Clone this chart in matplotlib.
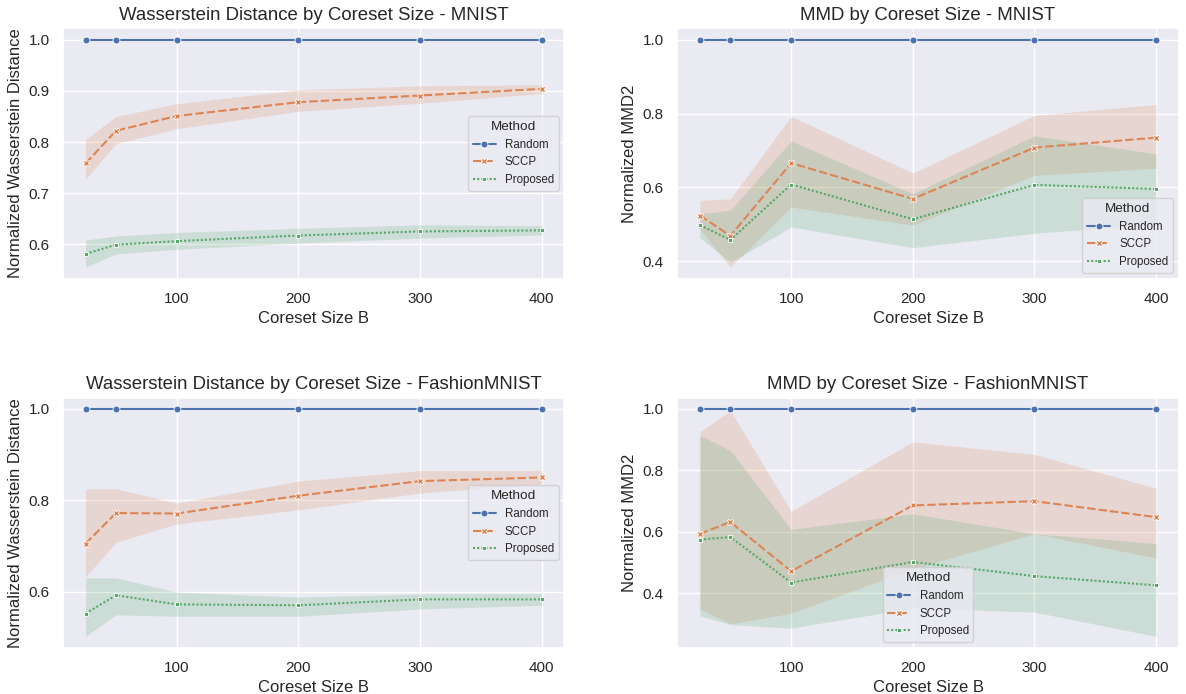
import matplotlib
matplotlib.use("Agg")
import matplotlib.pyplot as plt
from matplotlib.ticker import MultipleLocator
import seaborn as sns
import numpy as np

sizes = [25, 50, 100, 200, 300, 400]
methods = ["Random", "SCCP", "Proposed"]

# Wasserstein - MNIST
w_mnist_random = [1.0, 1.0, 1.0, 1.0, 1.0, 1.0]
w_mnist_sccp = [0.758, 0.822, 0.851, 0.878, 0.891, 0.904]
w_mnist_sccp_lo = [0.727, 0.797, 0.826, 0.860, 0.876, 0.895]
w_mnist_sccp_hi = [0.805, 0.850, 0.875, 0.902, 0.910, 0.912]
w_mnist_prop = [0.581, 0.599, 0.606, 0.617, 0.625, 0.627]
w_mnist_prop_lo = [0.555, 0.581, 0.590, 0.602, 0.612, 0.618]
w_mnist_prop_hi = [0.608, 0.616, 0.623, 0.631, 0.638, 0.636]

# MMD - MNIST
m_mnist_random = [1.0, 1.0, 1.0, 1.0, 1.0, 1.0]
m_mnist_sccp = [0.524, 0.469, 0.666, 0.569, 0.708, 0.735]
m_mnist_sccp_lo = [0.487, 0.384, 0.547, 0.498, 0.633, 0.652]
m_mnist_sccp_hi = [0.565, 0.569, 0.793, 0.639, 0.795, 0.825]
m_mnist_prop = [0.498, 0.458, 0.608, 0.514, 0.607, 0.596]
m_mnist_prop_lo = [0.464, 0.397, 0.493, 0.437, 0.476, 0.500]
m_mnist_prop_hi = [0.529, 0.538, 0.726, 0.583, 0.740, 0.691]

# Wasserstein - FashionMNIST
w_fashion_random = [1.0, 1.0, 1.0, 1.0, 1.0, 1.0]
w_fashion_sccp = [0.705, 0.772, 0.771, 0.810, 0.842, 0.850]
w_fashion_sccp_lo = [0.632, 0.708, 0.748, 0.779, 0.816, 0.836]
w_fashion_sccp_hi = [0.825, 0.825, 0.794, 0.842, 0.865, 0.865]
w_fashion_prop = [0.552, 0.592, 0.572, 0.570, 0.583, 0.583]
w_fashion_prop_lo = [0.502, 0.549, 0.546, 0.546, 0.562, 0.570]
w_fashion_prop_hi = [0.630, 0.630, 0.599, 0.588, 0.595, 0.596]

# MMD - FashionMNIST
m_fashion_random = [1.0, 1.0, 1.0, 1.0, 1.0, 1.0]
m_fashion_sccp = [0.594, 0.632, 0.472, 0.686, 0.700, 0.648]
m_fashion_sccp_lo = [0.349, 0.301, 0.335, 0.480, 0.594, 0.515]
m_fashion_sccp_hi = [0.926, 0.995, 0.667, 0.893, 0.852, 0.742]
m_fashion_prop = [0.575, 0.583, 0.435, 0.502, 0.456, 0.426]
m_fashion_prop_lo = [0.327, 0.298, 0.287, 0.352, 0.339, 0.260]
m_fashion_prop_hi = [0.914, 0.865, 0.608, 0.659, 0.594, 0.562]

titles = [
    "Wasserstein Distance by Coreset Size - MNIST",
    "MMD by Coreset Size - MNIST",
    "Wasserstein Distance by Coreset Size - FashionMNIST",
    "MMD by Coreset Size - FashionMNIST",
]
ylabels = ["Normalized Wasserstein Distance", "Normalized MMD2",
           "Normalized Wasserstein Distance", "Normalized MMD2"]
xlabel = "Coreset Size B"

panels = [
    (w_mnist_random, w_mnist_sccp, w_mnist_sccp_lo, w_mnist_sccp_hi,
     w_mnist_prop, w_mnist_prop_lo, w_mnist_prop_hi),
    (m_mnist_random, m_mnist_sccp, m_mnist_sccp_lo, m_mnist_sccp_hi,
     m_mnist_prop, m_mnist_prop_lo, m_mnist_prop_hi),
    (w_fashion_random, w_fashion_sccp, w_fashion_sccp_lo, w_fashion_sccp_hi,
     w_fashion_prop, w_fashion_prop_lo, w_fashion_prop_hi),
    (m_fashion_random, m_fashion_sccp, m_fashion_sccp_lo, m_fashion_sccp_hi,
     m_fashion_prop, m_fashion_prop_lo, m_fashion_prop_hi),
]
legend_locs = ["center right", "lower right", "center right", "lower center"]
y_steps = [0.1, 0.2, 0.2, 0.2]

sns.set_theme(style="darkgrid")
plt.rcParams['font.family'] = ['Liberation Sans', 'DejaVu Sans']

colors = sns.color_palette("deep")[:3]
markers = ["o", "X", (4, 0, 45)]
dashes = [None, (4, 1.5), (1, 1)]

fig, axes = plt.subplots(2, 2, figsize=(11.86, 6.94), dpi=100)
fig.subplots_adjust(left=0.0529, right=0.994, top=0.959, bottom=0.0667,
                    wspace=0.2246, hspace=0.476)

for ax, data, title, ylab, loc, ystep in zip(axes.flat, panels, titles, ylabels,
                                             legend_locs, y_steps):
    rnd, sc, sc_lo, sc_hi, pr, pr_lo, pr_hi = data
    series = [(rnd, None, None), (sc, sc_lo, sc_hi), (pr, pr_lo, pr_hi)]
    for (y, lo, hi), name, c, m, d in zip(series, methods, colors, markers, dashes):
        line, = ax.plot(sizes, y, color=c, marker=m, markersize=5, lw=1.5,
                        markeredgecolor="w", markeredgewidth=0.6, label=name)
        if d is not None:
            line.set_dashes(d)
        if lo is not None:
            ax.fill_between(sizes, lo, hi, color=c, alpha=0.2, linewidth=0)
    ax.xaxis.set_major_locator(MultipleLocator(100))
    ax.yaxis.set_major_locator(MultipleLocator(ystep))
    ax.set_title(title, fontsize=13.4)
    ax.set_xlabel(xlabel, fontsize=12)
    ax.set_ylabel(ylab, fontsize=12)
    ax.tick_params(labelsize=11)
    ax.legend(title="Method", loc=loc, fontsize=8.3, title_fontsize=9.7)

fig.savefig("out.png", dpi=100)
